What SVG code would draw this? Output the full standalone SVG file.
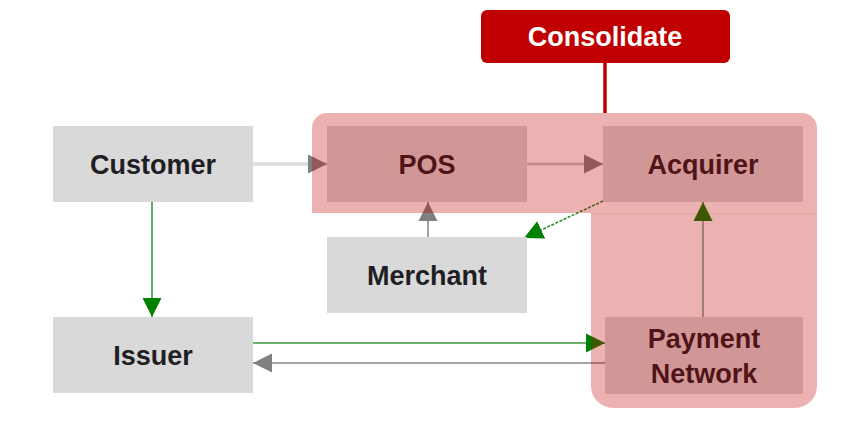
<svg xmlns="http://www.w3.org/2000/svg" width="865" height="426" viewBox="0 0 865 426">
  <defs>
    <style>
      .box { fill: #d9d9d9; }
      .label { font-family: "Liberation Sans", Arial, sans-serif; font-weight: bold; font-size: 27px; fill: #1e1e24; text-anchor: middle; }
      .callout-label { fill: #ffffff; }
      .link { fill: none; }
      .gray-light { stroke: #dedede; stroke-width: 3.5; }
      .gray-mid { stroke: #c4c4c4; stroke-width: 2.5; }
      .gray { stroke: #a3a3a3; stroke-width: 2; }
      .green { stroke: #3e963e; stroke-width: 1.6; }
      .green-dash { stroke: #2f8a2f; stroke-width: 1.6; stroke-dasharray: 3 1.5; }
      .green-soft { stroke: #93b59a; stroke-width: 2; }
    </style>
    <marker id="arrow-gray" viewBox="0 0 20 20" refX="20" refY="10" markerWidth="19" markerHeight="20" markerUnits="userSpaceOnUse" orient="auto">
      <path d="M0,0 L20,10 L0,20 Z" fill="#808080"/>
    </marker>
    <marker id="arrow-green" viewBox="0 0 20 20" refX="20" refY="10" markerWidth="19" markerHeight="20" markerUnits="userSpaceOnUse" orient="auto">
      <path d="M0,0 L20,10 L0,20 Z" fill="#008000"/>
    </marker>
  </defs>

  <rect width="865" height="426" fill="#ffffff"/>

  <!-- connectors -->
  <g id="connectors">
    <path class="link gray-light" d="M253,164 H327" marker-end="url(#arrow-gray)"/>
    <path class="link gray-mid" d="M527,164 H603" marker-end="url(#arrow-gray)"/>
    <path class="link gray" d="M428,237 V202" marker-end="url(#arrow-gray)"/>
    <path class="link green-dash" d="M603,201 L524,238" marker-end="url(#arrow-green)"/>
    <path class="link green" d="M152,202 V317" marker-end="url(#arrow-green)"/>
    <path class="link green" d="M253,343 H605" marker-end="url(#arrow-green)"/>
    <path class="link gray" d="M605,363 H253" marker-end="url(#arrow-gray)"/>
    <path class="link green-soft" d="M703,317 V202" marker-end="url(#arrow-green)"/>
  </g>

  <!-- nodes -->
  <g id="customer">
    <rect class="box" x="53" y="126" width="200" height="76"/>
    <text class="label" x="153" y="174">Customer</text>
  </g>
  <g id="pos">
    <rect class="box" x="327" y="126" width="200" height="76"/>
    <text class="label" x="427" y="174">POS</text>
  </g>
  <g id="acquirer">
    <rect class="box" x="603" y="126" width="200" height="76"/>
    <text class="label" x="703" y="174">Acquirer</text>
  </g>
  <g id="merchant">
    <rect class="box" x="327" y="237" width="200" height="76"/>
    <text class="label" x="427" y="285">Merchant</text>
  </g>
  <g id="issuer">
    <rect class="box" x="53" y="317" width="200" height="76"/>
    <text class="label" x="153" y="365">Issuer</text>
  </g>
  <g id="payment-network">
    <rect class="box" x="605" y="317" width="198" height="77"/>
    <text class="label" x="704" y="348">Payment</text>
    <text class="label" x="704" y="383">Network</text>
  </g>

  <!-- consolidation zone, tinted over the nodes it covers -->
  <g id="consolidate-zone">
    <path d="M312,213 V128 A15,15 0 0 1 327,113 H802 A15,15 0 0 1 817,128 V386 A22,22 0 0 1 795,408 H613 A22,22 0 0 1 591,386 V213 Z" fill="#c00000" fill-opacity="0.3"/>
    <line x1="591" y1="213.5" x2="817" y2="213.5" stroke="#c00000" stroke-opacity="0.08" stroke-width="1"/>
  </g>

  <g id="consolidate">
    <line x1="605" y1="62" x2="605" y2="113" stroke="#c00000" stroke-width="3.5"/>
    <rect x="481" y="10" width="249" height="53" rx="6" fill="#c00000"/>
    <text class="label callout-label" x="605" y="46">Consolidate</text>
  </g>
</svg>
